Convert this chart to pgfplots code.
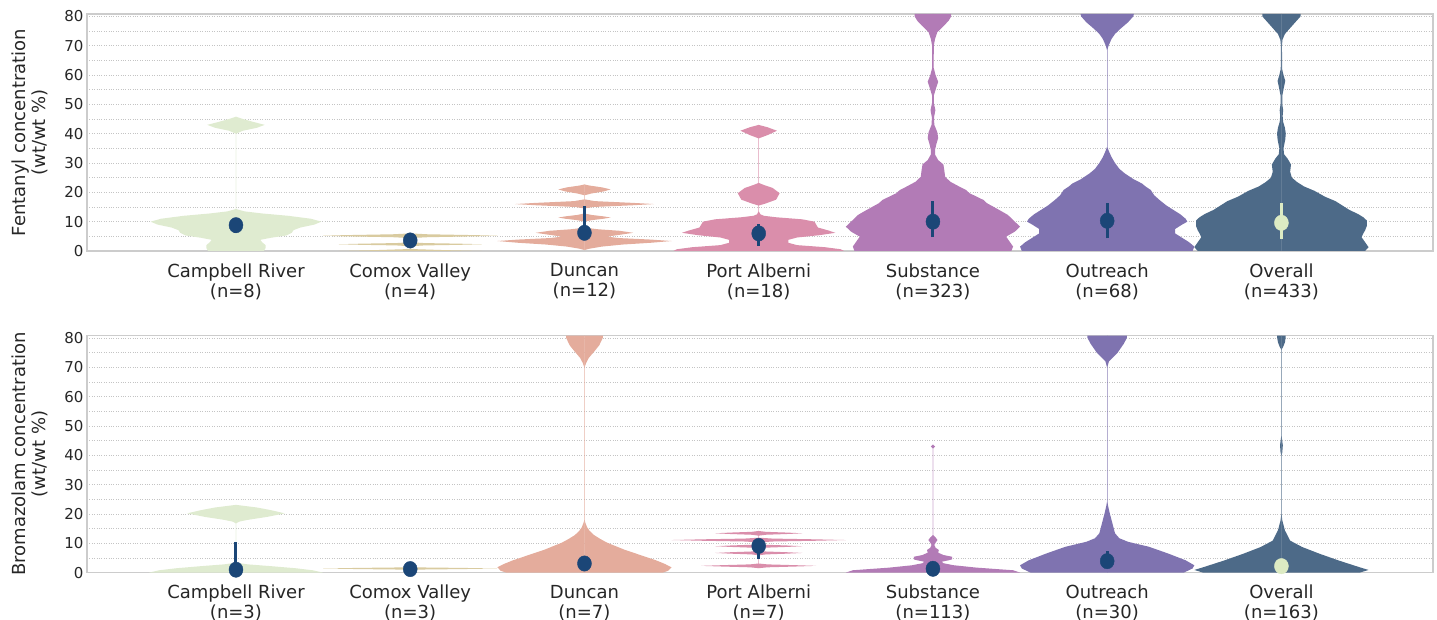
\documentclass[border=0pt]{standalone}
\usepackage{pgfplots}
\pgfplotsset{compat=1.18}
\usepackage{pgfplotstable}
\usepackage{fontspec}
\setmainfont{DejaVu Sans}

\definecolor{textc}{HTML}{262626}
\definecolor{framec}{HTML}{CCCCCC}
\definecolor{gridc}{HTML}{C4C4C4}
\definecolor{cCR}{HTML}{DFEBD0}
\definecolor{cCV}{HTML}{D9CBA0}
\definecolor{cDU}{HTML}{E4AC9C}
\definecolor{cPA}{HTML}{DA8EAB}
\definecolor{cSU}{HTML}{B27BB6}
\definecolor{cOU}{HTML}{7F73B0}
\definecolor{cOV}{HTML}{4D6A88}
\definecolor{dotc}{HTML}{1B4677}
\definecolor{dotov}{HTML}{DDEBC3}

% violin profiles: y, half width (category units)
% ---- fentanyl ----
\pgfplotstableread{
y w
0 -0.001
0 0.16
1 0.17
2 0.17
3 0.15
3.8 0.14
4.5 0.2
5.3 0.29
6.2 0.32
7.1 0.33
8 0.37
9 0.45
10 0.49
11 0.43
12 0.3
12.8 0.15
13.5 0.05
14.3 0.0008
40 0.0008
41 0.04
42 0.12
43 0.165
44 0.1
45 0.04
45.8 -0.001
}\tCRa
\pgfplotstableread{
y w
0 -0.001
0 0.41
0.3 0.2
0.6 0.04
0.8 -0.001
1.6 -0.001
1.9 0.08
2.1 0.28
2.3 0.41
2.5 0.28
2.7 0.08
3 -0.001
4.4 -0.001
4.7 0.1
5 0.38
5.2 0.5
5.4 0.38
5.7 0.1
6 -0.001
}\tCVa
\pgfplotstableread{
y w
0.3 -0.001
0.8 0.03
1.5 0.1
2.2 0.22
2.8 0.38
3.4 0.5
3.9 0.38
4.4 0.2
4.9 0.13
5.5 0.2
6.2 0.28
6.9 0.2
7.4 0.08
7.9 0.01
8.3 0.0008
10 0.0008
10.5 0.04
11 0.11
11.4 0.15
11.8 0.11
12.3 0.04
12.8 0.0008
14.5 0.0008
15 0.05
15.6 0.28
16 0.4
16.4 0.28
17 0.06
17.6 0.0008
19 0.0008
19.6 0.04
20.3 0.11
21 0.15
21.7 0.1
22.3 0.03
22.7 -0.001
}\tDUa
\pgfplotstableread{
y w
0 -0.001
0 0.49
0.6 0.47
1.3 0.38
2 0.22
2.8 0.17
3.8 0.17
4.6 0.22
5.4 0.35
6.2 0.44
7 0.4
8 0.34
9 0.33
10 0.32
10.8 0.25
11.5 0.1
12 0.03
12.5 0.01
13.5 0.0008
15.5 0.0008
16.2 0.04
17.5 0.1
19.7 0.12
21.5 0.08
22.5 0.03
23.2 0.0008
38.4 0.0008
39.5 0.05
41 0.105
42.2 0.05
43 -0.001
}\tPAa
\pgfplotstableread{
y w
0 -0.001
0 0.45
1.5 0.46
3.2 0.44
4.9 0.42
6.6 0.47
8.3 0.5
10 0.47
12.3 0.43
14 0.38
16.3 0.31
17.4 0.29
19.7 0.21
20.8 0.19
22 0.15
23.6 0.1
25.3 0.07
27.6 0.065
29.5 0.06
31 0.03
32.9 0.012
34.5 0.012
36.5 0.02
38.5 0.03
40.5 0.025
43 0.008
45.5 0.006
48 0.014
50.5 0.005
53 0.005
55.5 0.018
57.7 0.03
60 0.015
62.5 0.004
70 0.005
72.3 0.012
74.6 0.025
76.8 0.063
78.5 0.09
80 0.105
80.8 0.105
80.8 -0.001
}\tSUa
\pgfplotstableread{
y w
0 -0.001
0 0.49
1.5 0.5
3 0.47
4.5 0.43
6 0.39
7.5 0.39
9 0.43
10 0.46
11 0.45
12.5 0.42
14 0.38
15.5 0.34
17.4 0.3
19 0.27
20.8 0.25
22 0.22
23 0.2
24.5 0.15
26.5 0.1
28 0.07
30 0.045
32 0.025
34 0.01
35.5 0.0008
68.5 0.0008
70 0.008
72.3 0.025
74 0.045
75.7 0.075
78 0.12
80 0.15
80.8 0.153
80.8 -0.001
}\tOUa
\pgfplotstableread{
y w
0 -0.001
0 0.48
1.3 0.5
3 0.48
4.7 0.46
6 0.47
7 0.48
8.5 0.49
10.4 0.49
11.5 0.47
12.6 0.44
14 0.39
15.5 0.35
17 0.31
18.5 0.25
20.5 0.19
22 0.13
23.5 0.09
25 0.06
27 0.05
29.5 0.055
31.5 0.035
33 0.015
35 0.012
38 0.022
40 0.025
42 0.02
44 0.01
46 0.007
48 0.01
50 0.005
53 0.005
56 0.015
58 0.022
60 0.012
62 0.004
70 0.003
72 0.006
74 0.02
76 0.05
78 0.08
80 0.11
80.8 0.11
80.8 -0.001
}\tOVa
% ---- bromazolam ----
\pgfplotstableread{
y w
0 -0.001
0 0.5
0.8 0.44
1.5 0.34
2.2 0.2
2.8 0.07
3.3 0.01
3.8 0.0008
16.8 0.0008
17.4 0.02
18 0.07
19 0.18
20.2 0.28
21.3 0.2
22.2 0.12
22.8 0.04
23.1 -0.001
}\tCRb
\pgfplotstableread{
y w
1.0 -0.001
1.2 0.3
1.4 0.5
1.6 0.3
1.8 -0.001
}\tCVb
\pgfplotstableread{
y w
0 -0.001
0 0.45
0.6 0.48
1.8 0.5
3 0.46
4.2 0.41
5.4 0.35
6.6 0.29
7.8 0.23
9 0.18
10.2 0.13
11.5 0.09
12.8 0.055
14.2 0.03
15.5 0.015
17 0.005
18 0.0008
70 0.0008
71.5 0.01
73.2 0.025
75.5 0.058
77.5 0.085
80 0.105
80.8 0.105
80.8 -0.001
}\tDUb
\pgfplotstableread{
y w
1.5 -0.001
1.8 0.05
2.05 0.2
2.3 0.33
2.55 0.2
2.8 0.05
3.1 0.0008
5.9 0.0008
6.2 0.04
6.45 0.16
6.7 0.25
6.95 0.16
7.2 0.04
7.5 0.0008
8.2 0.0008
8.5 0.04
8.75 0.16
9 0.25
9.25 0.16
9.5 0.04
9.8 0.0008
10.3 0.0008
10.6 0.08
10.85 0.32
11.1 0.5
11.35 0.32
11.6 0.08
11.9 0.0008
12.6 0.0008
12.9 0.04
13.15 0.16
13.4 0.25
13.65 0.16
13.9 0.04
14.2 -0.001
}\tPAb
\pgfplotstableread{
y w
0 -0.001
0 0.5
0.8 0.46
1.7 0.25
2.5 0.12
3.2 0.06
3.7 0.05
4.2 0.09
4.5 0.11
5.4 0.11
6 0.06
6.8 0.03
7.7 0.034
8.5 0.015
9.4 0.008
10.2 0.015
11.1 0.026
12 0.015
12.8 0.0008
42.3 0.0008
43 0.012
43.7 -0.001
}\tSUb
\pgfplotstableread{
y w
0 -0.001
0 0.44
1.4 0.49
2.5 0.5
4.2 0.45
6.5 0.35
8.8 0.24
10.5 0.12
11.7 0.07
13.4 0.045
16.8 0.03
20.2 0.015
22.5 0.006
24.2 0.0008
70 0.0008
72 0.01
75 0.06
78 0.095
80 0.113
80.8 0.113
80.8 -0.001
}\tOUb
\pgfplotstableread{
y w
0 -0.001
0 0.45
0.9 0.5
1.8 0.45
4.1 0.33
6.4 0.22
8.7 0.12
10.9 0.05
14.4 0.02
17.8 0.005
20 0.0008
40 0.0008
41 0.005
43.4 0.008
45.7 0.003
46.5 0.0008
76 0.0008
77 0.01
78.5 0.02
80 0.024
80.8 0.024
80.8 -0.001
}\tOVb

% #1 centre, #2 colour, #3 table
\newcommand{\violin}[3]{%
  \addplot[fill=#2, draw=none, forget plot] table[x expr=#1+\thisrow{w}, y=y]{#3} -- cycle;
  \addplot[fill=#2, draw=none, forget plot] table[x expr=#1-\thisrow{w}, y=y]{#3} -- cycle;
}
% #1 centre, #2 q1, #3 q3, #4 median, #5 colour
\newcommand{\inner}[5]{%
  \addplot[color=#5, line width=3pt, forget plot] coordinates {(#1,#2) (#1,#3)};
  \addplot[color=#5, only marks, mark=*, mark size=7pt, mark options={yscale=1.1, fill=#5, draw=#5}, forget plot] coordinates {(#1,#4)};
}

\pgfplotsset{
  vstyle/.style={
    width=1346pt, height=237pt, scale only axis,
    xmin=-0.855, xmax=6.87, ymin=0, ymax=80.8,
    xtick={0,...,6}, ytick={0,10,...,80}, minor ytick={5,15,...,75},
    ymajorgrids, yminorgrids,
    major grid style={draw=gridc, line width=0.8pt, dash pattern=on 1pt off 1.4pt},
    minor grid style={draw=gridc, line width=0.8pt, dash pattern=on 1pt off 1.4pt},
    major tick length=0pt, minor tick length=0pt,
    axis line style={draw=framec, line width=1.2pt},
    /pgf/number format/assume math mode=true,
    yticklabel style={font=\fontsize{15}{18}\selectfont, text=textc},
    xticklabel style={font=\fontsize{18}{20}\selectfont, text=textc, align=center, yshift=-9pt},
    ylabel style={font=\fontsize{18}{20}\selectfont, text=textc, align=center,
      at={(axis description cs:-0.0424,0.5)}, anchor=center},
    clip=true,
  }
}

\begin{document}
\begin{tikzpicture}
\path[use as bounding box] (-87pt,-369pt) rectangle (1350pt,251pt);

\begin{axis}[vstyle, at={(0pt,0pt)}, anchor=south west,
  ylabel={Fentanyl concentration\\(wt/wt \%)},
  xticklabels={{Campbell River\\(n=8)},{Comox Valley\\(n=4)},{Duncan\\(n=12)},{Port Alberni\\(n=18)},{Substance\\(n=323)},{Outreach\\(n=68)},{Overall\\(n=433)}}]
  \violin{0}{cCR}{\tCRa}
  \violin{1}{cCV}{\tCVa}
  \violin{2}{cDU}{\tDUa}
  \violin{3}{cPA}{\tPAa}
  \violin{4}{cSU}{\tSUa}
  \violin{5}{cOU}{\tOUa}
  \violin{6}{cOV}{\tOVa}
  \inner{0}{6.2}{8.8}{8.8}{dotc}
  \inner{1}{3.6}{3.6}{3.6}{dotc}
  \inner{2}{3.7}{15.3}{6.2}{dotc}
  \inner{3}{1.8}{9.2}{6.0}{dotc}
  \inner{4}{4.7}{17.0}{10.0}{dotc}
  \inner{5}{4.3}{16.5}{10.3}{dotc}
  \inner{6}{4.2}{16.2}{9.6}{dotov}
\end{axis}

\begin{axis}[vstyle, at={(0pt,-321.6pt)}, anchor=south west,
  ylabel={Bromazolam concentration\\(wt/wt \%)},
  xticklabels={{Campbell River\\(n=3)},{Comox Valley\\(n=3)},{Duncan\\(n=7)},{Port Alberni\\(n=7)},{Substance\\(n=113)},{Outreach\\(n=30)},{Overall\\(n=163)}}]
  \violin{0}{cCR}{\tCRb}
  \violin{1}{cCV}{\tCVb}
  \violin{2}{cDU}{\tDUb}
  \violin{3}{cPA}{\tPAb}
  \violin{4}{cSU}{\tSUb}
  \violin{5}{cOU}{\tOUb}
  \violin{6}{cOV}{\tOVb}
  \inner{0}{1.0}{10.5}{1.0}{dotc}
  \inner{1}{1.2}{1.2}{1.2}{dotc}
  \inner{2}{2.5}{5.5}{3.1}{dotc}
  \inner{3}{4.6}{9.1}{9.1}{dotc}
  \inner{4}{1.3}{1.3}{1.3}{dotc}
  \inner{5}{2.6}{7.4}{3.9}{dotc}
  \inner{6}{1.5}{4.7}{2.2}{dotov}
\end{axis}
\end{tikzpicture}
\end{document}
